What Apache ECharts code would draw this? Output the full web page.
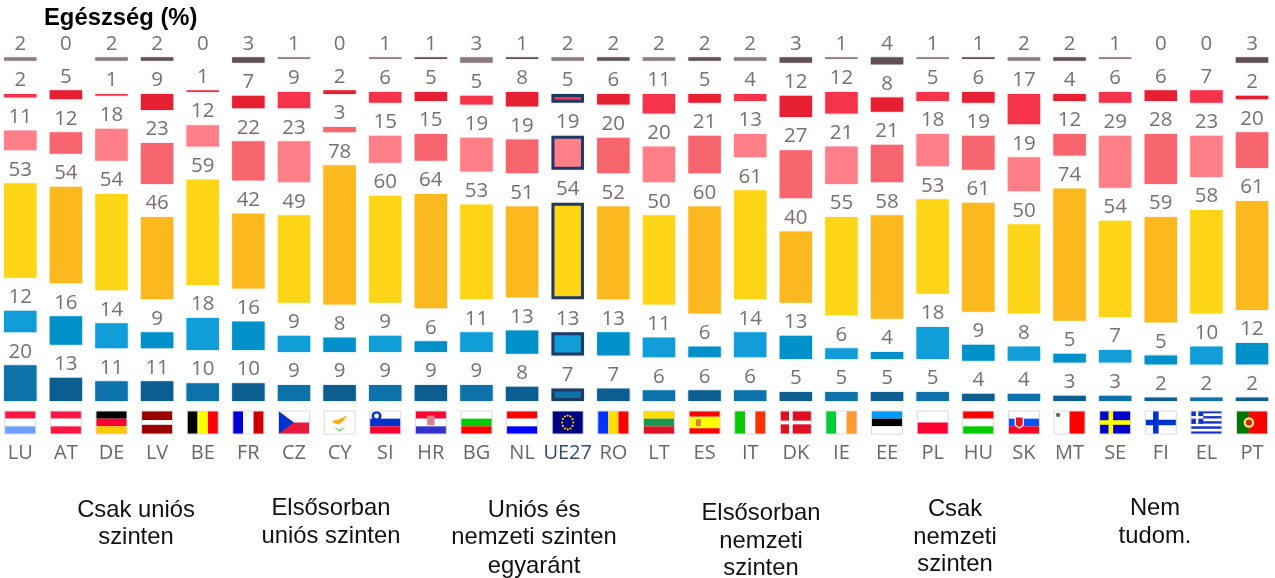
<!DOCTYPE html>
<html><head><meta charset="utf-8">
<style>html,body{margin:0;padding:0;background:#fff;overflow:hidden}#c{width:1315px;height:578px;margin-left:-20px}</style>
<script src="https://cdn.jsdelivr.net/npm/echarts@6/dist/echarts.min.js"></script>
</head><body><div id="c"></div>
<script>
const countries = ['LU','AT','DE','LV','BE','FR','CZ','CY','SI','HR','BG','NL','UE27','RO','LT','ES','IT','DK','IE','EE','PL','HU','SK','MT','SE','FI','EL','PT'];
const csakUnios      = [20,13,11,11,10,10,9,9,9,9,9,8,7,7,6,6,6,5,5,5,5,4,4,3,3,2,2,2];
const elsosorbanUnios= [12,16,14,9,18,16,9,8,9,6,11,13,13,13,11,6,14,13,6,4,18,9,8,5,7,5,10,12];
const egyarant       = [53,54,54,46,59,42,49,78,60,64,53,51,54,52,50,60,61,40,55,58,53,61,50,74,54,59,58,61];
const elsosorbanNemz = [11,12,18,23,12,22,23,3,15,15,19,19,19,20,20,21,13,27,21,21,18,19,19,12,29,28,23,20];
const csakNemzeti    = [2,5,1,9,1,7,9,2,6,5,5,8,5,6,11,5,4,12,12,8,5,6,17,4,6,6,7,2];
const nemTudom       = [2,0,2,2,0,3,1,0,1,1,3,1,2,2,2,2,2,3,1,4,1,1,2,2,1,0,0,3];
const titleText = 'Egészség (%)';
const captions = [
  ['Csak uniós','szinten'],
  ['Elsősorban','uniós szinten'],
  ['Uniós és','nemzeti szinten','egyaránt'],
  ['Elsősorban','nemzeti','szinten'],
  ['Csak','nemzeti','szinten'],
  ['Nem','tudom.']
];

// ---- styling / layout -------------------------------------------------
const palette = [
  ['#0E72AA','#0D5E90'],
  ['#109DD8','#0091CB'],
  ['#FFD617','#FBB81F'],
  ['#FF7F88','#F7656F'],
  ['#F5334A','#E61F33'],
  ['#8B7B7E','#5F5059']
];
const NAVY = '#1F3864';
const EU = countries.indexOf('UE27');
const GAP = 18.5;
const TEXT = '#7b6f73';
const LABEL_FONT = '"Open Sans","Noto Sans",sans-serif';
const SHIFT = 20; // the canvas starts 20px left of the window so the first band can bleed off the edge

const captionPos = [
  {x:136, y:[522,549]},
  {x:331, y:[520,548]},
  {x:534, y:[522,549,578]},
  {x:761, y:[525,553,580]},
  {x:955, y:[521,549,576]},
  {x:1155,y:[520,548]}
];

// flags drawn in unit coordinates
function H(){const a=[...arguments];return a.map((c,i)=>['r',0,i/a.length,1,1/a.length,c]);}
function V(){const a=[...arguments];return a.map((c,i)=>['r',i/a.length,0,1/a.length,1,c]);}
function cross(bg,fg,cx,t){return [['r',0,0,1,1,bg],['r',cx-t*0.75/2,0,t*0.75,1,fg],['r',0,.5-t/2,1,t,fg]];}
function dot(x,y,r,c){return ['c',x,y,r,c];}
const stars=[];for(let i=0;i<12;i++){const a=i*Math.PI/6;stars.push(dot(.5+.18*Math.cos(a),.5+.3*Math.sin(a),.035,'#FFD400'));}
const greek=[];for(let i=0;i<9;i++)greek.push(['r',0,i/9,1,1/9,i%2?'#FFFFFF':'#1133CC']);
greek.push(['r',0,0,.4,5/9,'#1133CC'],['r',.16,0,.08,5/9,'#FFFFFF'],['r',0,2/9,.4,1/9,'#FFFFFF']);
const flags={
 LU:H('#FF1744','#FFFFFF','#6FA0FF'),AT:H('#FF1744','#FFFFFF','#FF1744'),DE:H('#000000','#FF0033','#FFCC00'),
 LV:[['r',0,0,1,.4,'#990000'],['r',0,.4,1,.2,'#FFFFFF'],['r',0,.6,1,.4,'#990000']],
 BE:V('#000000','#FFFF00','#FF0000'),FR:V('#0000DD','#FFFFFF','#CC0000'),
 CZ:[...H('#FFFFFF','#E8193C'),['p',[[0,0],[.5,.5],[0,1]],'#0033CC']],
 CY:[['r',0,0,1,1,'#FFFFFF'],['p',[[.25,.42],[.45,.38],[.75,.2],[.62,.42],[.5,.58],[.36,.55]],'#FFAA11'],['p',[[.3,.68],[.5,.8],[.7,.68],[.5,.9]],'#88CC66']],
 SI:[...H('#FFFFFF','#0033CC','#FF0033'),dot(.22,.22,.16,'#0033CC'),dot(.22,.22,.08,'#FFFFFF')],
 HR:[...H('#FF0033','#FFFFFF','#3333CC'),['r',.38,.2,.24,.42,'#D9808A']],
 BG:H('#FFFFFF','#00CC00','#FF0000'),NL:H('#FF0000','#FFFFFF','#0000FF'),
 UE27:[['r',0,0,1,1,'#000080'],...stars],
 RO:V('#0033FF','#FFDD00','#FF0000'),LT:H('#FFDD00','#1A9850','#DD1122'),
 ES:[['r',0,0,1,.25,'#FF0000'],['r',0,.25,1,.5,'#FFFF00'],['r',0,.75,1,.25,'#FF0000'],['r',.22,.36,.16,.3,'#D08040']],
 IT:V('#00CC00','#FFFFFF','#FF3300'),
 DK:cross('#DD1122','#FFFFFF',.34,.16),
 IE:V('#00CC33','#FFFFFF','#FF9933'),EE:H('#0099FF','#000000','#FFFFFF'),PL:H('#FFFFFF','#FF0033'),
 HU:H('#FF0000','#FFFFFF','#00CC00'),
 SK:[...H('#FFFFFF','#0055FF','#FF0022'),['p',[[.2,.22],[.5,.22],[.5,.62],[.35,.78],[.2,.62]],'#FFFFFF'],['p',[[.24,.28],[.46,.28],[.46,.6],[.35,.72],[.24,.6]],'#EE1122']],
 MT:[['r',0,0,.5,1,'#FFFFFF'],['r',.5,0,.5,1,'#FF0000'],dot(.13,.17,.07,'#666666')],
 SE:cross('#0000CC','#FFFF00',.36,.2),FI:cross('#FFFFFF','#0033CC',.34,.24),
 EL:greek,
 PT:[['r',0,0,.4,1,'#007700'],['r',.4,0,.6,1,'#FF0000'],dot(.4,.5,.17,'#FFEE66'),dot(.4,.5,.1,'#CC2222')]
};
function flagItem(params,api){
  const code=countries[api.value(0)];
  const p=api.coord([api.value(0),0]);
  const w=31,h=23,x=p[0]-w/2,y=p[1]+10;
  const ch=flags[code].map(s=>{
    if(s[0]==='r')return{type:'rect',shape:{x:x+s[1]*w,y:y+s[2]*h,width:s[3]*w,height:s[4]*h},style:{fill:s[5]}};
    if(s[0]==='c')return{type:'circle',shape:{cx:x+s[1]*w,cy:y+s[2]*h,r:s[3]*w},style:{fill:s[4]}};
    return{type:'polygon',shape:{points:s[1].map(q=>[x+q[0]*w,y+q[1]*h])},style:{fill:s[2]}};
  });
  ch.push({type:'rect',shape:{x:x,y:y,width:w,height:h},style:{fill:'none',stroke:'#dcd8d8',lineWidth:1}});
  return{type:'group',children:ch};
}

function barSeries(name,values,idx){
  return {
    name,type:'bar',stack:'s',barWidth:32.5,barMinHeight:idx===5?1.5:0,
    data:values.map((v,i)=>({value:v,itemStyle:Object.assign(
      {color:palette[idx][i%2],shadowColor:palette[idx][i%2]+'55',shadowBlur:2},
      (i===EU&&idx<5)?{borderColor:NAVY,borderWidth:3}:{}
    )})),
    label:{show:true,position:'top',distance:3,color:TEXT,fontFamily:LABEL_FONT,fontSize:20.5,formatter:p=>String(p.value)},
    silent:true,z:3
  };
}
function spacer(k){
  return {name:'gap'+k,type:'bar',stack:'s',barWidth:32.5,data:countries.map(()=>GAP),
    itemStyle:{color:'transparent'},silent:true,tooltip:{show:false}};
}
const stackValues=[csakUnios,elsosorbanUnios,egyarant,elsosorbanNemz,csakNemzeti,nemTudom];
const series=[];
stackValues.forEach((v,i)=>{
  series.push(barSeries('s'+i,v,i));
  if(i<5)series.push(spacer(i));
});
series.push({type:'custom',renderItem:flagItem,data:countries.map((c,i)=>[i]),encode:{x:0},clip:false,silent:true,z:4});

const SANS='"Liberation Sans",Arial,sans-serif';
const graphic=[{type:'text',x:44+SHIFT,y:6,style:{text:titleText,verticalAlign:'top',fontFamily:SANS,fontWeight:'bold',fontSize:23.8,fill:'#000'}}];
captions.forEach((lines,i)=>lines.forEach((t,j)=>{
  graphic.push({type:'text',x:captionPos[i].x+SHIFT,y:captionPos[i].y[j],
    style:{text:t,align:'center',verticalAlign:'bottom',fontFamily:SANS,fontSize:23.8,fill:'#111'}});
}));

const chart=echarts.init(document.getElementById('c'),null,{renderer:'canvas'});
chart.setOption({
  animation:false,backgroundColor:'#fff',
  grid:{left:SHIFT-2.56,width:1277.4,top:57.3,height:343.7,containLabel:false},
  xAxis:{type:'category',data:countries,axisLine:{show:false},axisTick:{show:false},
    axisLabel:{interval:0,margin:42,fontFamily:LABEL_FONT,fontSize:20,
      color:(v)=>v==='UE27'?'#2f4a7a':'#6f6468',hideOverlap:false}},
  yAxis:{type:'value',min:0,max:192.5,interval:192.5,show:false,splitLine:{show:false}},
  graphic,series
});
</script></body></html>
